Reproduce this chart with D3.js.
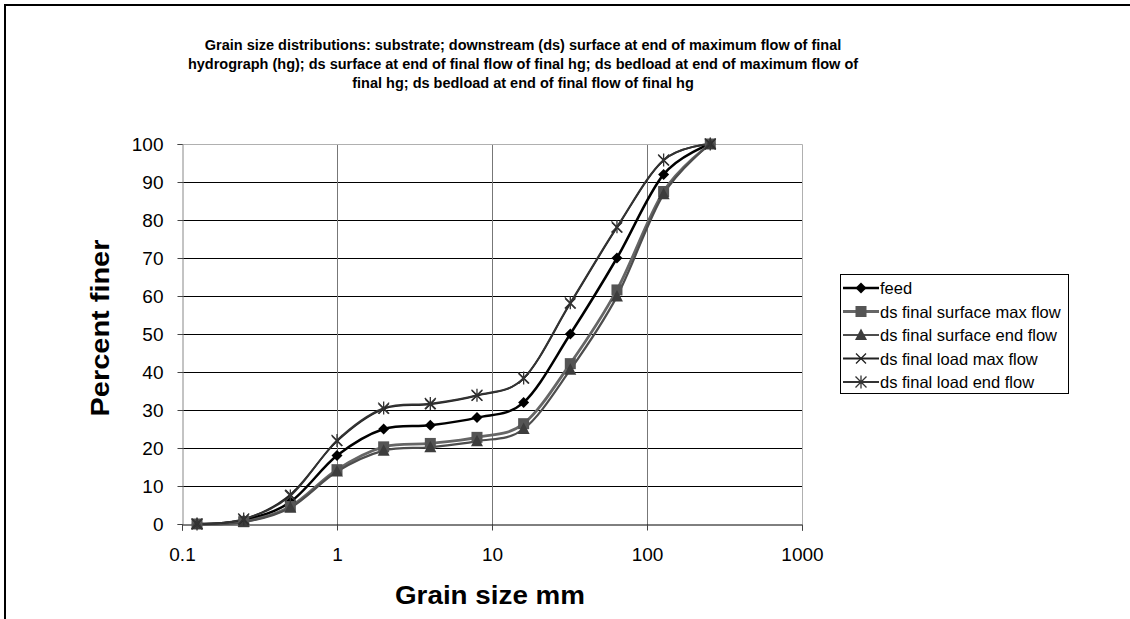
<!DOCTYPE html>
<html>
<head>
<meta charset="utf-8">
<script src="https://cdn.jsdelivr.net/npm/d3@7"></script>
<style>
  body { margin: 0; background: #fff; }
  svg { display: block; font-family: "Liberation Sans", Arial, sans-serif; }
</style>
</head>
<body>
<svg id="chart" width="1130" height="619"></svg>
<script>
// grain sizes (mm) and percent finer for each distribution
var grainSize = [0.125, 0.25, 0.5, 1, 2, 4, 8, 16, 32, 64, 128, 256];
var feed = [0, 1, 5.8, 18, 25, 26, 28, 32, 50, 70, 92, 100];
var surfaceMax = [0, 0.6, 4.6, 14.3, 20.3, 21.2, 22.8, 26.4, 42.2, 61.6, 87.5, 100];
var surfaceEnd = [0, 0.5, 4.3, 13.8, 19.3, 20.2, 21.8, 25, 40.6, 59.9, 86.8, 100];
var loadMax = [0, 1.2, 7.7, 21.8, 30.3, 31.5, 33.8, 38.3, 58, 78, 95.7, 100];
var loadEnd = [0, 1.3, 7.4, 22, 30.5, 31.7, 33.9, 38.4, 58.2, 78.2, 95.8, 100];

var xTicks = [0.1, 1, 10, 100, 1000];
var yTicks = [0, 10, 20, 30, 40, 50, 60, 70, 80, 90, 100];

var titleLines = ["Grain size distributions: substrate; downstream (ds) surface at end of maximum flow of final",
                  "hydrograph (hg); ds surface at end of final flow of final hg; ds bedload at end of maximum flow of",
                  "final hg; ds bedload at end of final flow of final hg"];

var series = [
    {"name": "feed", "values": feed, "color": "#000", "width": 2.5, "marker": "diamond", "mcolor": "#000"},
    {"name": "ds final surface max flow", "values": surfaceMax, "color": "#666", "width": 2.8, "marker": "square", "mcolor": "#555"},
    {"name": "ds final surface end flow", "values": surfaceEnd, "color": "#4d4d4d", "width": 2.2, "marker": "triangle", "mcolor": "#3d3d3d"},
    {"name": "ds final load max flow", "values": loadMax, "color": "#222", "width": 1.8, "marker": "x", "mcolor": "#222"},
    {"name": "ds final load end flow", "values": loadEnd, "color": "#333", "width": 1.8, "marker": "star", "mcolor": "#333"}
];

var svg = d3.select("#chart");

//Outer chart frame (clipped by the window on the right and bottom)
svg.append("path")
    .attr("d", "M5,625 L5,5 L1135,5")
    .attr("fill", "none")
    .attr("stroke", "#000")
    .attr("stroke-width", 2);

var plotLeft = 182, plotRight = 802, plotTop = 144, plotBottom = 524;

var x = d3.scaleLog().domain([0.1, 1000]).range([plotLeft, plotRight]);
var y = d3.scaleLinear().domain([0, 100]).range([plotBottom, plotTop]);

//Title
svg.append("g").selectAll("text")
    .data(titleLines)
    .enter().append("text")
    .attr("x", 523)
    .attr("y", function(d, i) { return 50 + i * 19; })
    .attr("text-anchor", "middle")
    .attr("font-size", "14.5px")
    .attr("font-weight", "bold")
    .text(function(d) { return d; });

//Gridlines
var grid = svg.append("g");
grid.selectAll("line.h")
    .data(yTicks.slice(1, -1))
    .enter().append("line")
    .attr("x1", plotLeft).attr("x2", plotRight)
    .attr("y1", function(d) { return Math.round(y(d)) + 0.5; })
    .attr("y2", function(d) { return Math.round(y(d)) + 0.5; })
    .attr("stroke", "#000");

grid.selectAll("line.v")
    .data(xTicks.slice(1, -1))
    .enter().append("line")
    .attr("y1", plotTop).attr("y2", plotBottom + 6)
    .attr("x1", function(d) { return Math.round(x(d)) + 0.5; })
    .attr("x2", function(d) { return Math.round(x(d)) + 0.5; })
    .attr("stroke", "#777");

//Plot area border top/right
svg.append("path")
    .attr("d", "M" + plotLeft + "," + (plotTop + 0.5) + " L" + (plotRight + 0.5) + "," + (plotTop + 0.5) + " L" + (plotRight + 0.5) + "," + plotBottom)
    .attr("fill", "none")
    .attr("stroke", "#b0b0b0");

//Axes
var yAxis = d3.axisLeft(y).tickValues(yTicks).tickSize(5).tickPadding(14);
var gy = svg.append("g").attr("transform", "translate(" + (plotLeft + 0.5) + ",0)").call(yAxis);
gy.select(".domain").attr("stroke", "#888");
gy.selectAll(".tick line").attr("stroke", "#444");
gy.selectAll("text").attr("font-size", "19px").attr("font-family", "Liberation Sans, Arial").attr("fill", "#000");

var xAxis = d3.axisBottom(x).tickValues(xTicks).tickSize(6).tickPadding(17)
    .tickFormat(function(d) { return d < 1 ? "0.1" : d3.format("d")(d); });
var gx = svg.append("g").attr("transform", "translate(0," + (plotBottom + 0.5) + ")").call(xAxis);
gx.select(".domain").attr("stroke", "#000");
gx.selectAll(".tick line").attr("stroke", "#444");
gx.selectAll("text").attr("font-size", "19px").attr("font-family", "Liberation Sans, Arial").attr("fill", "#000");

//Axis titles
svg.append("text")
    .attr("transform", "translate(109,328) rotate(-90)")
    .attr("text-anchor", "middle")
    .attr("font-size", "25px")
    .attr("font-weight", "bold")
    .attr("textLength", 177)
    .attr("lengthAdjust", "spacingAndGlyphs")
    .text("Percent finer");

svg.append("text")
    .attr("x", 490).attr("y", 604)
    .attr("text-anchor", "middle")
    .attr("font-size", "25px")
    .attr("font-weight", "bold")
    .attr("textLength", 190)
    .attr("lengthAdjust", "spacingAndGlyphs")
    .text("Grain size mm");

//Marker drawing
function drawMarker(g, type, color) {
    if (type === "diamond")
        g.append("path").attr("d", "M0,-5.5 L5.5,0 L0,5.5 L-5.5,0 Z").attr("fill", color);
    else if (type === "square")
        g.append("rect").attr("x", -5.5).attr("y", -5.5).attr("width", 11).attr("height", 11).attr("fill", color);
    else if (type === "triangle")
        g.append("path").attr("d", "M0,-6.5 L6,5 L-6,5 Z").attr("fill", color);
    else if (type === "x")
        g.append("path").attr("d", "M-5,-5 L5,5 M-5,5 L5,-5").attr("stroke", color).attr("stroke-width", 1.3);
    else if (type === "star")
        g.append("path").attr("d", "M-5.5,-5.5 L5.5,5.5 M-5.5,5.5 L5.5,-5.5 M0,-6.5 L0,6.5").attr("stroke", color).attr("stroke-width", 1.3);
}

var line = d3.line()
    .x(function(d) { return x(d[0]); })
    .y(function(d) { return y(d[1]); })
    .curve(d3.curveCardinal.tension(0));

var plot = svg.append("g");
series.forEach(function(s) {
    var pts = grainSize.map(function(g, i) { return [g, s.values[i]]; });
    plot.append("path")
        .datum(pts)
        .attr("d", line)
        .attr("fill", "none")
        .attr("stroke", s.color)
        .attr("stroke-width", s.width);
});
series.forEach(function(s) {
    grainSize.forEach(function(g, i) {
        var m = plot.append("g").attr("transform", "translate(" + x(g) + "," + y(s.values[i]) + ")");
        drawMarker(m, s.marker, s.mcolor);
    });
});

//Legend
var legend = svg.append("g");
legend.append("rect")
    .attr("x", 840.5).attr("y", 274.5)
    .attr("width", 228).attr("height", 119)
    .attr("fill", "#fff").attr("stroke", "#000");

series.forEach(function(s, i) {
    var ly = 288 + i * 23.5;
    legend.append("line")
        .attr("x1", 843).attr("x2", 879)
        .attr("y1", ly).attr("y2", ly)
        .attr("stroke", s.color).attr("stroke-width", s.width);
    var m = legend.append("g").attr("transform", "translate(861," + ly + ")");
    drawMarker(m, s.marker, s.mcolor);
    legend.append("text")
        .attr("x", 880).attr("y", ly + 6)
        .attr("font-size", "16.5px")
        .text(s.name);
});
</script>
</body>
</html>
